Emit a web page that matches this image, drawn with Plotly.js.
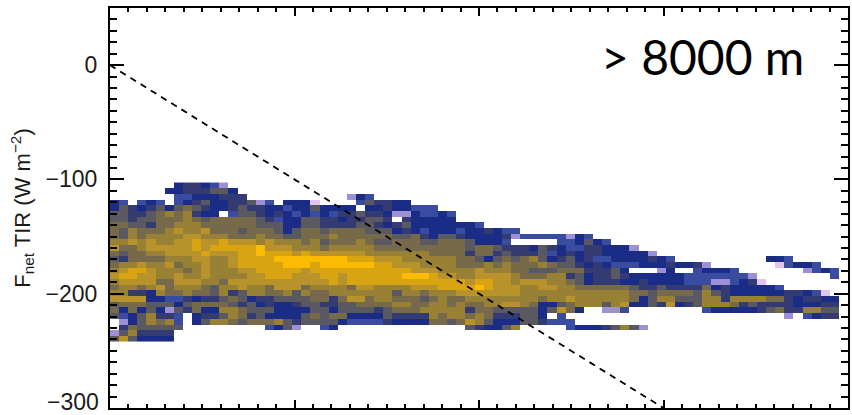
<!DOCTYPE html>
<html>
<head>
<meta charset="utf-8">
<script src="https://cdn.plot.ly/plotly-3.0.1.min.js"></script>
<style>html,body{margin:0;padding:0;background:#fff}
#chart .heatmaplayer image{filter:blur(0.6px)}</style>
</head>
<body>
<div id="chart" style="width:852px;height:415px"></div>
<script>
// Each string is one row of the 2-D histogram, top to bottom; one char per bin:
// '.' = empty bin, 0-9 and a = density class.
const rowCodes = [
".......344321......." + "...................." + "...................." + "....................",
"......33444553......" + "...................." + "...................." + "....................",
".......22333444....." + "......132..........." + "...................." + "....................",
"32.232.23453344512.3" + "330....254433......." + "...................." + "....................",
"35434535654334544332" + "3353333.33433222...." + "...................." + "....................",
"5544567674"+"33.2554343" + "2323244544"+"31132232.." + "...................." + "....................",
"5545566676"+"5666665423" + "3554434455"+"4.433333.." + "...................." + "....................",
"6655466777"+"6666665553" + "3554444554"+"3453333333" + "2..................." + "....................",
"6576667877"+"8666566653" + "5665666655"+"5343233323" + "34322..............." + "....................",
"6576777788"+"7776667665" + "5666766666"+"6556435543" + "3334122222"+"132......." + "....................",
"7787877889"+"8898887877" + "7675666765"+"5666556665" + "3332.....2"+"23532....." + "....................",
"8667888889"+"899999a888" + "7776777776"+"6666666665" + "6654443543"+"22443331.." + "....................",
"6566778888"+"988899a999" + "8988888877"+"7777766664" + "6645444523"+"4344333331" + "....................",
"5466667778"+"87789999aa" + "aaaaaa9998"+"8877777766" + "5356567534"+"5342233334" + "32..........332.....",
"6778778677"+"877899999a" + "aa9aaaaaa9"+"9888777766" + "6767666765"+"5434322233" + "343341.......02332..",
"7899877767"+"8777889999" + "9899999999"+"9998887777" + "8777665556"+"6644453..." + "13..23332.......1232",
"8998877877"+"8777788999" + "8889989999"+"99aaa98877" + "8888766677"+"4534454333" + "33322222221........2",
"7888866888"+"7768888888" + "8888989999"+"9999999998" + "9988788877"+"6534443343" + "333222112340........",
"6776786777"+"6577877688" + "8677776887"+"7778889999" + "a988877887"+"7666666544" + "5444463433"+"3332......",
"7744376676"+"6574577667" + "5766777777"+"7577677788" + "8888877777"+"7777777665" + "6666575433"+"333344320.",
"8888332243"+"4456534455" + "5566468867"+"7666567667" + "7777777677"+"8777777635" + "7755577477"+"7766434433",
"5666555356"+"6665453433" + "4554455666"+"6776677676" + "6778876335"+"6777578335" + "4834577764"+"5444433344",
"6363531546"+"3377655533" + "3355355554"+"5666777774" + "6655555358"+"63..112..." + ".....23333"+"3456447755",
"52357442.3"+"4457645333" + "3565663333"+"5444476776" + "76444553.2"+".........." + "..............1.2344",
".1357672.3"+"5776566675" + "4555532222"+"4333366568" + "7533355422"+"2........." + "....................",
".4655555.."+".......235" + "1..23.............." + "5" + "43357....."+"233345751." + "....................",
"1574444............." + "...................." + "...................." + "....................",
"5853333............." + "...................." + "...................." + "...................."
];
const binFirstX = 2.47, binWidthX = 4.9375;
const binFirstY = -105.2, binHeightY = -4.96;
const classColors = ["#e2c4ee","#9e90d6","#3a4ca0","#1a2c86","#343a72","#5a5860","#776a4a","#988034","#b8922a","#d8a412","#fabb00"];
const refLineX = [0, 300];
const refLineY = [0, -300];
const yTickVals = [0, -100, -200, -300];
const yTickText = ["0", "\u2212100", "\u2212200", " "];
const bottomLabel = "\u2212300";
const panelLabel = "> 8000 m";

const z = rowCodes.map(function (r) {
  return r.split("").map(function (ch) { return ch === "." ? null : parseInt(ch, 16); });
});
const colorscale = classColors.map(function (c, i) { return [i / (classColors.length - 1), c]; });
const labelFont = {family: "Liberation Sans, sans-serif", size: 23, color: "#1a1a1a"};

const traces = [
  {type: "heatmap", z: z, x0: binFirstX, dx: binWidthX, y0: binFirstY, dy: binHeightY,
   zmin: 0, zmax: classColors.length - 1, colorscale: colorscale, showscale: false, hoverongaps: false},
  {type: "scatter", mode: "lines", x: refLineX, y: refLineY,
   line: {color: "#000", width: 1.8, dash: "6.5px,5.5px"}, hoverinfo: "skip", showlegend: false}
];
const layout = {
  width: 852, height: 415,
  margin: {l: 110, r: 4, t: 7.5, b: 6.5, pad: 0},
  paper_bgcolor: "#fff", plot_bgcolor: "#fff",
  showlegend: false,
  xaxis: {range: [0, 400], tickmode: "linear", tick0: 0, dtick: 100, ticks: "inside", ticklen: 8, tickwidth: 2,
    tickcolor: "#000", showticklabels: false, showgrid: false, zeroline: false, showline: true, linewidth: 2,
    linecolor: "#000", mirror: "allticks",
    minor: {ticks: "inside", dtick: 10, ticklen: 4, tickwidth: 2, tickcolor: "#000", showgrid: false}},
  yaxis: {range: [-300, 50], tickmode: "array", tickvals: yTickVals, ticktext: yTickText, ticks: "inside", ticklen: 14,
    tickwidth: 2, tickcolor: "#000", tickfont: labelFont, ticklabelstandoff: 6, showgrid: false, zeroline: false,
    showline: true, linewidth: 2, linecolor: "#000", mirror: "allticks",
    minor: {ticks: "inside", tickmode: "linear", tick0: 0, dtick: 10, ticklen: 7, tickwidth: 2, tickcolor: "#000", showgrid: false},
    title: {text: "F<sub>net</sub> TIR (W m<sup>\u22122</sup>)", font: {family: "Liberation Sans, sans-serif", size: 22, color: "#1a1a1a"}, standoff: 9}},
  annotations: [
    {xref: "paper", yref: "paper", x: (702 - 110) / 738, y: 0.879, xanchor: "center", yanchor: "middle",
     text: panelLabel, showarrow: false, font: {family: "Lato, sans-serif", size: 48, color: "#000"}},
    {xref: "paper", yref: "paper", x: -9 / 738, y: 0.016, xanchor: "right", yanchor: "middle",
     text: bottomLabel, showarrow: false, font: labelFont}
  ]
};
Plotly.newPlot("chart", traces, layout, {displayModeBar: false, staticPlot: true});
</script>
</body>
</html>
